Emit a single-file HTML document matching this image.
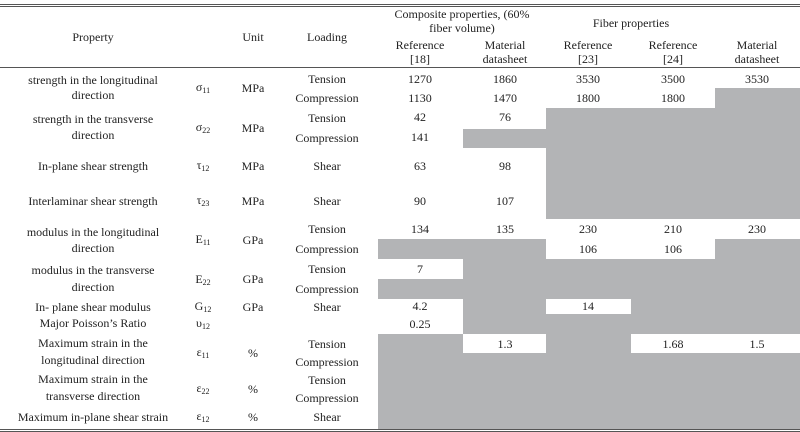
<!DOCTYPE html>
<html><head><meta charset="utf-8"><style>
html,body{margin:0;padding:0;background:#fff;}
#t{position:relative;width:800px;height:432px;overflow:hidden;font-family:"Liberation Serif",serif;font-size:12px;color:#222;}
.t{position:absolute;transform:translate(-50%,-50%);white-space:nowrap;line-height:14px;text-align:center;}
.g{position:absolute;background:#b3b4b6;}
.l{position:absolute;left:0;width:800px;background:#555;}
sub{font-size:8px;vertical-align:-2px;}
</style></head><body>
<div id="t">
<div class="l" style="top:4px;height:1px"></div>
<div class="l" style="top:6px;height:1px"></div>
<div class="l" style="top:67px;height:1px"></div>
<div class="l" style="top:429px;height:1px"></div>
<div class="l" style="top:431px;height:1px"></div>

<!-- gray cells -->
<div class="g" style="left:715px;top:88px;width:85px;height:131px"></div>
<div class="g" style="left:546px;top:108px;width:169px;height:111px"></div>
<div class="g" style="left:463px;top:129px;width:83px;height:19px"></div>
<div class="g" style="left:378px;top:239px;width:168px;height:20px"></div>
<div class="g" style="left:715px;top:239px;width:85px;height:20px"></div>
<div class="g" style="left:463px;top:259px;width:337px;height:40px"></div>
<div class="g" style="left:378px;top:279px;width:85px;height:20px"></div>
<div class="g" style="left:463px;top:299px;width:83px;height:35px"></div>
<div class="g" style="left:631px;top:299px;width:169px;height:35px"></div>
<div class="g" style="left:546px;top:314px;width:85px;height:20px"></div>
<div class="g" style="left:378px;top:334px;width:85px;height:95px"></div>
<div class="g" style="left:546px;top:334px;width:85px;height:95px"></div>
<div class="g" style="left:463px;top:353px;width:83px;height:76px"></div>
<div class="g" style="left:631px;top:353px;width:169px;height:76px"></div>

<!-- header -->
<div class="t" style="left:93px;top:37px">Property</div>
<div class="t" style="left:253px;top:37px">Unit</div>
<div class="t" style="left:327px;top:37px">Loading</div>
<div class="t" style="left:462px;top:21px">Composite properties, (60%<br>fiber volume)</div>
<div class="t" style="left:631px;top:23px">Fiber properties</div>
<div class="t" style="left:420px;top:52px">Reference<br>[18]</div>
<div class="t" style="left:505px;top:52px">Material<br>datasheet</div>
<div class="t" style="left:588px;top:52px">Reference<br>[23]</div>
<div class="t" style="left:673px;top:52px">Reference<br>[24]</div>
<div class="t" style="left:757px;top:52px">Material<br>datasheet</div>

<!-- property labels -->
<div class="t" style="left:93px;top:88px;line-height:15px">strength in the longitudinal<br>direction</div>
<div class="t" style="left:93px;top:127px;line-height:16px">strength in the transverse<br>direction</div>
<div class="t" style="left:93px;top:166px">In-plane shear strength</div>
<div class="t" style="left:93px;top:201px">Interlaminar shear strength</div>
<div class="t" style="left:93px;top:240px;line-height:16px">modulus in the longitudinal<br>direction</div>
<div class="t" style="left:93px;top:279px;line-height:17px">modulus in the transverse<br>direction</div>
<div class="t" style="left:93px;top:307px">In- plane shear modulus</div>
<div class="t" style="left:93px;top:323px">Major Poisson’s Ratio</div>
<div class="t" style="left:93px;top:352px;line-height:17px">Maximum strain in the<br>longitudinal direction</div>
<div class="t" style="left:93px;top:388px;line-height:17px">Maximum strain in the<br>transverse direction</div>
<div class="t" style="left:93px;top:417px">Maximum in-plane shear strain</div>

<!-- symbols -->
<div class="t" style="left:203px;top:89px">σ<sub>11</sub></div>
<div class="t" style="left:203px;top:129px">σ<sub>22</sub></div>
<div class="t" style="left:203px;top:167px">τ<sub>12</sub></div>
<div class="t" style="left:203px;top:202px">τ<sub>23</sub></div>
<div class="t" style="left:203px;top:241px">E<sub>11</sub></div>
<div class="t" style="left:203px;top:281px">E<sub>22</sub></div>
<div class="t" style="left:203px;top:308px">G<sub>12</sub></div>
<div class="t" style="left:203px;top:325px">υ<sub>12</sub></div>
<div class="t" style="left:203px;top:354px">ε<sub>11</sub></div>
<div class="t" style="left:203px;top:390px">ε<sub>22</sub></div>
<div class="t" style="left:203px;top:418px">ε<sub>12</sub></div>

<!-- units -->
<div class="t" style="left:253px;top:88px">MPa</div>
<div class="t" style="left:253px;top:128px">MPa</div>
<div class="t" style="left:253px;top:166px">MPa</div>
<div class="t" style="left:253px;top:201px">MPa</div>
<div class="t" style="left:253px;top:240px">GPa</div>
<div class="t" style="left:253px;top:279px">GPa</div>
<div class="t" style="left:253px;top:307px">GPa</div>
<div class="t" style="left:253px;top:353px">%</div>
<div class="t" style="left:253px;top:389px">%</div>
<div class="t" style="left:253px;top:417px">%</div>

<!-- loading -->
<div class="t" style="left:327px;top:79px">Tension</div>
<div class="t" style="left:327px;top:98px">Compression</div>
<div class="t" style="left:327px;top:118px">Tension</div>
<div class="t" style="left:327px;top:138px">Compression</div>
<div class="t" style="left:327px;top:166px">Shear</div>
<div class="t" style="left:327px;top:201px">Shear</div>
<div class="t" style="left:327px;top:229px">Tension</div>
<div class="t" style="left:327px;top:249px">Compression</div>
<div class="t" style="left:327px;top:269px">Tension</div>
<div class="t" style="left:327px;top:289px">Compression</div>
<div class="t" style="left:327px;top:307px">Shear</div>
<div class="t" style="left:327px;top:344px">Tension</div>
<div class="t" style="left:327px;top:362px">Compression</div>
<div class="t" style="left:327px;top:380px">Tension</div>
<div class="t" style="left:327px;top:398px">Compression</div>
<div class="t" style="left:327px;top:417px">Shear</div>

<!-- values -->
<div class="t" style="left:420px;top:79px">1270</div>
<div class="t" style="left:505px;top:79px">1860</div>
<div class="t" style="left:588px;top:79px">3530</div>
<div class="t" style="left:673px;top:79px">3500</div>
<div class="t" style="left:757px;top:79px">3530</div>
<div class="t" style="left:420px;top:98px">1130</div>
<div class="t" style="left:505px;top:98px">1470</div>
<div class="t" style="left:588px;top:98px">1800</div>
<div class="t" style="left:673px;top:98px">1800</div>
<div class="t" style="left:420px;top:117px">42</div>
<div class="t" style="left:505px;top:117px">76</div>
<div class="t" style="left:420px;top:137px">141</div>
<div class="t" style="left:420px;top:166px">63</div>
<div class="t" style="left:505px;top:166px">98</div>
<div class="t" style="left:420px;top:201px">90</div>
<div class="t" style="left:505px;top:201px">107</div>
<div class="t" style="left:420px;top:229px">134</div>
<div class="t" style="left:505px;top:229px">135</div>
<div class="t" style="left:588px;top:229px">230</div>
<div class="t" style="left:673px;top:229px">210</div>
<div class="t" style="left:757px;top:229px">230</div>
<div class="t" style="left:588px;top:249px">106</div>
<div class="t" style="left:673px;top:249px">106</div>
<div class="t" style="left:420px;top:269px">7</div>
<div class="t" style="left:420px;top:306px">4.2</div>
<div class="t" style="left:588px;top:306px">14</div>
<div class="t" style="left:420px;top:324px">0.25</div>
<div class="t" style="left:505px;top:344px">1.3</div>
<div class="t" style="left:673px;top:344px">1.68</div>
<div class="t" style="left:757px;top:344px">1.5</div>
</div>
</body></html>
